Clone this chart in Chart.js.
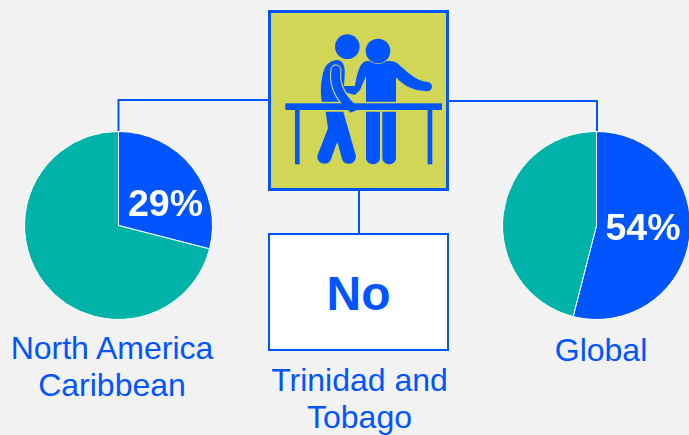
<!DOCTYPE html>
<html>
<head>
<meta charset="utf-8">
<title>Trinidad and Tobago</title>
<script src="https://cdn.jsdelivr.net/npm/chart.js@4"></script>
<style>
    html, body { margin: 0; padding: 0; }
    body { width: 689px; height: 435px; background: #f2f2f2; overflow: hidden; position: relative;
           font-family: "Liberation Sans", Arial, sans-serif; color: #0055ff; }
    canvas { position: absolute; }
    svg { position: absolute; left: 0; top: 0; }
    .caption { position: absolute; font-size: 32px; line-height: 37px; text-align: center; white-space: nowrap; transform: translateX(-50%); }
    .pct { position: absolute; font-size: 37.5px; line-height: 40px; font-weight: bold; color: #fff; transform: translateX(-50%); }
    #answer { position: absolute; left: 268px; top: 233px; width: 181px; height: 118px; box-sizing: border-box;
              background: #fff; border: 2px solid #0055ff; text-align: center; font-size: 48px; font-weight: bold; line-height: 118px; }
</style>
</head>
<body>
<svg width="689" height="435">
    <path d="M118.5 131V100H268M449 101H597V131M359 190V233" fill="none" stroke="#0055ff" stroke-width="2"/>
    <rect x="269.5" y="11.5" width="178" height="178" fill="#d2d656" stroke="#0055ff" stroke-width="3"/>
    <g transform="translate(260 0) scale(0.3333)" fill="#0055ff">
        <circle cx="262" cy="140" r="37"/>
        <path d="M232 180C205 182 190 200 186 235C181 265 182 290 186 305H250V275L285 285L300 270L318 228V305H408V232C435 262 465 272 500 274C520 274 522 248 503 246C470 244 440 215 412 190C405 184 395 183 385 183H320C305 186 295 200 285 258H252C256 215 258 182 232 180Z"/>
        <circle cx="354" cy="153" r="39" fill="#d2d656"/>
        <circle cx="354" cy="153" r="37"/>
        <path d="M228 210C222 250 240 290 275 322" fill="none" stroke="#c9d06a" stroke-width="34" stroke-linecap="round"/>
        <path d="M228 210C222 250 240 290 275 322" fill="none" stroke="#0055ff" stroke-width="27" stroke-linecap="round"/>
        <rect x="76" y="310" width="470" height="20"/>
        <path d="M275 322L295 312L290 330L270 338Z"/>
        <rect x="105" y="330" width="14" height="163"/>
        <rect x="503" y="330" width="14" height="163"/>
        <path d="M197 335H250L287 465C293 490 258 502 247 480L232 425L212 480C200 503 163 488 174 462L204 385Z"/>
        <path d="M318 335H360V473C360 499 318 499 318 473Z"/>
        <path d="M367 335H408V473C408 499 367 499 367 473Z"/>
    </g>
</svg>

<canvas id="pieNorthAmerica" width="189" height="189" style="left:24px;top:130.5px;width:189px;height:189px"></canvas>
<canvas id="pieGlobal" width="189" height="189" style="left:501.5px;top:130.5px;width:189px;height:189px"></canvas>

<div class="pct" id="pctNorthAmerica" style="left:165.5px;top:183px"></div>
<div class="pct" id="pctGlobal" style="left:643px;top:207px"></div>

<div id="answer"></div>

<div class="caption" id="capNorthAmerica" style="left:112px;top:330px"></div>
<div class="caption" id="capGlobal" style="left:601px;top:332px"></div>
<div class="caption" id="capCountry" style="left:359.5px;top:362px"></div>

<script>
const regionLabels = ['North America<br>Caribbean', 'Global'];
const regionShares = [29, 54];
const countryLabel = 'Trinidad and<br>Tobago';
const countryAnswer = 'No';
const sliceColors = ['#0055ff', '#00b3a8'];

function createPie(id, share) {
    return new Chart(document.getElementById(id), {
        type: 'pie',
        data: {
            labels: ['Yes', 'No'],
            datasets: [{
                data: [share, 100 - share],
                backgroundColor: sliceColors,
                borderColor: '#ffffff',
                borderWidth: 1
            }]
        },
        options: {
            responsive: false,
            animation: false,
            layout: { padding: 0 },
            plugins: { legend: { display: false }, tooltip: { enabled: false } }
        }
    });
}

createPie('pieNorthAmerica', regionShares[0]);
createPie('pieGlobal', regionShares[1]);

document.getElementById('pctNorthAmerica').textContent = `${regionShares[0]}%`;
document.getElementById('pctGlobal').textContent = `${regionShares[1]}%`;
document.getElementById('capNorthAmerica').innerHTML = regionLabels[0];
document.getElementById('capGlobal').innerHTML = regionLabels[1];
document.getElementById('capCountry').innerHTML = countryLabel;
document.getElementById('answer').textContent = countryAnswer;
</script>
</body>
</html>
